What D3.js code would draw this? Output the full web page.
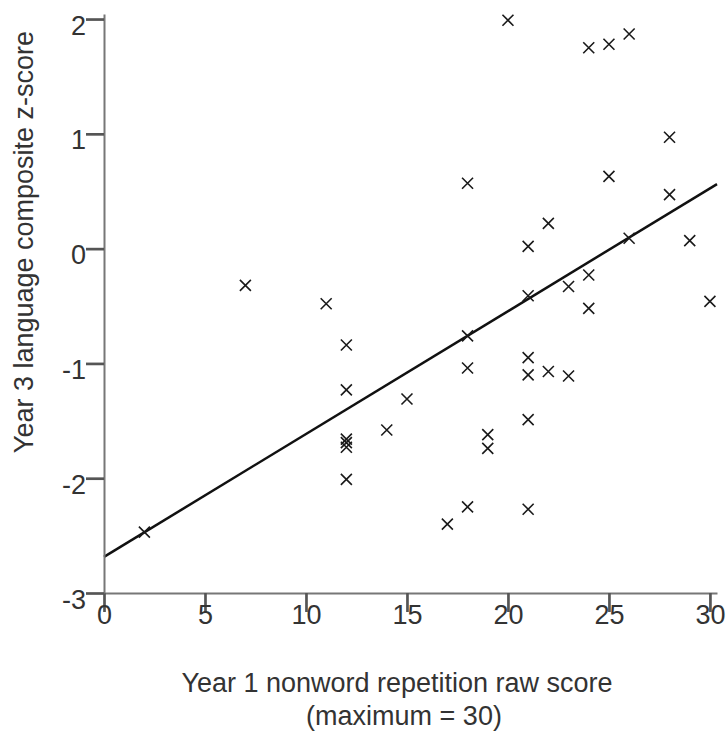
<!DOCTYPE html>
<html>
<head>
<meta charset="utf-8">
<script src="https://cdn.jsdelivr.net/npm/d3@7"></script>
<style>
  html, body { margin: 0; padding: 0; background: #fff; }
  svg { display: block; }
  text { font-family: "Liberation Sans", Arial, sans-serif; fill: #333; }
</style>
</head>
<body>
<svg id="chart" width="726" height="731"></svg>
<script>
// Year 1 nonword repetition raw score for each child
const xScores = [2, 7, 11,
  12, 12, 12, 12, 12, 12,
  14, 15, 17,
  18, 18, 18, 18,
  19, 19, 20,
  21, 21, 21, 21, 21, 21,
  22, 22, 23, 23,
  24, 24, 24, 25, 25,
  26, 26, 28, 28, 29, 30];
// Year 3 language composite z-score for the same children
const zScores = [-2.47, -0.32, -0.48,
  -0.84, -1.23, -1.66, -1.69, -1.73, -2.01,
  -1.58, -1.31, -2.40,
  0.57, -0.76, -1.04, -2.25,
  -1.62, -1.74, 1.99,
  0.02, -0.41, -0.95, -1.10, -1.49, -2.27,
  0.22, -1.07, -0.33, -1.11,
  1.75, -0.23, -0.52, 1.78, 0.63,
  1.87, 0.09, 0.97, 0.47, 0.07, -0.46];
// Fitted linear regression line
const fitIntercept = -2.685;
const fitSlope = 0.107;

const xTicks = [0, 5, 10, 15, 20, 25, 30];
const yTicks = [-3, -2, -1, 0, 1, 2];
const xTitle = ["Year 1 nonword repetition raw score", "(maximum = 30)"];
const yTitle = "Year 3 language composite z-score";

const svg = d3.select("#chart");

const x = d3.scaleLinear().domain([0, 30.35]).range([104, 717]);
const y = d3.scaleLinear().domain([-3, 2.044]).range([593, 14]);

// Regression line
const lineX = [0, 30.35];
svg.append("path")
  .attr("d", d3.line()
    .x(d => x(d))
    .y(d => y(fitIntercept + fitSlope * d))(lineX))
  .attr("fill", "none")
  .attr("stroke", "#111")
  .attr("stroke-width", 2.5);

// Scatter markers drawn as crosses
const pts = xScores.map((v, i) => ({ x: v, y: zScores[i] }));
const r = 5.5;
const marks = svg.append("g").selectAll("g").data(pts).join("g")
  .attr("transform", d => `translate(${x(d.x)},${y(d.y)})`);
marks.append("path")
  .attr("d", `M${-r},${-r}L${r},${r}M${-r},${r}L${r},${-r}`)
  .attr("stroke", "#1a1a1a")
  .attr("stroke-width", 1.6)
  .attr("fill", "none");

// Axes (plain integer labels with an ASCII hyphen for negatives)
const intLabel = d => String(d);
const xAxis = svg.append("g")
  .attr("transform", `translate(0,${y(-3)})`)
  .call(d3.axisBottom(x).tickValues(xTicks).tickFormat(intLabel)
    .tickSize(19).tickSizeOuter(0).tickPadding(0));
const yAxis = svg.append("g")
  .attr("transform", `translate(${x(0)},0)`)
  .call(d3.axisLeft(y).tickValues(yTicks).tickFormat(intLabel)
    .tickSize(18).tickSizeOuter(0).tickPadding(0));

[xAxis, yAxis].forEach(g => {
  g.select(".domain").attr("stroke", "#777").attr("stroke-width", 2);
  g.selectAll(".tick line").attr("stroke", "#555").attr("stroke-width", 2.7);
  g.selectAll(".tick text")
    .style("font-family", '"Liberation Sans", Arial, sans-serif')
    .attr("font-size", 27)
    .attr("fill", "#333");
});
xAxis.selectAll(".tick text").attr("y", 31).attr("dy", 0);
yAxis.selectAll(".tick text").attr("x", -18).attr("dy", 15);

// Axis titles
svg.append("text")
  .attr("x", 397).attr("y", 692)
  .attr("text-anchor", "middle")
  .attr("font-size", 27)
  .text(xTitle[0]);
svg.append("text")
  .attr("x", 404).attr("y", 725)
  .attr("text-anchor", "middle")
  .attr("font-size", 27)
  .text(xTitle[1]);
svg.append("text")
  .attr("transform", "translate(33,242) rotate(-90)")
  .attr("text-anchor", "middle")
  .attr("font-size", 27)
  .text(yTitle);
</script>
</body>
</html>
